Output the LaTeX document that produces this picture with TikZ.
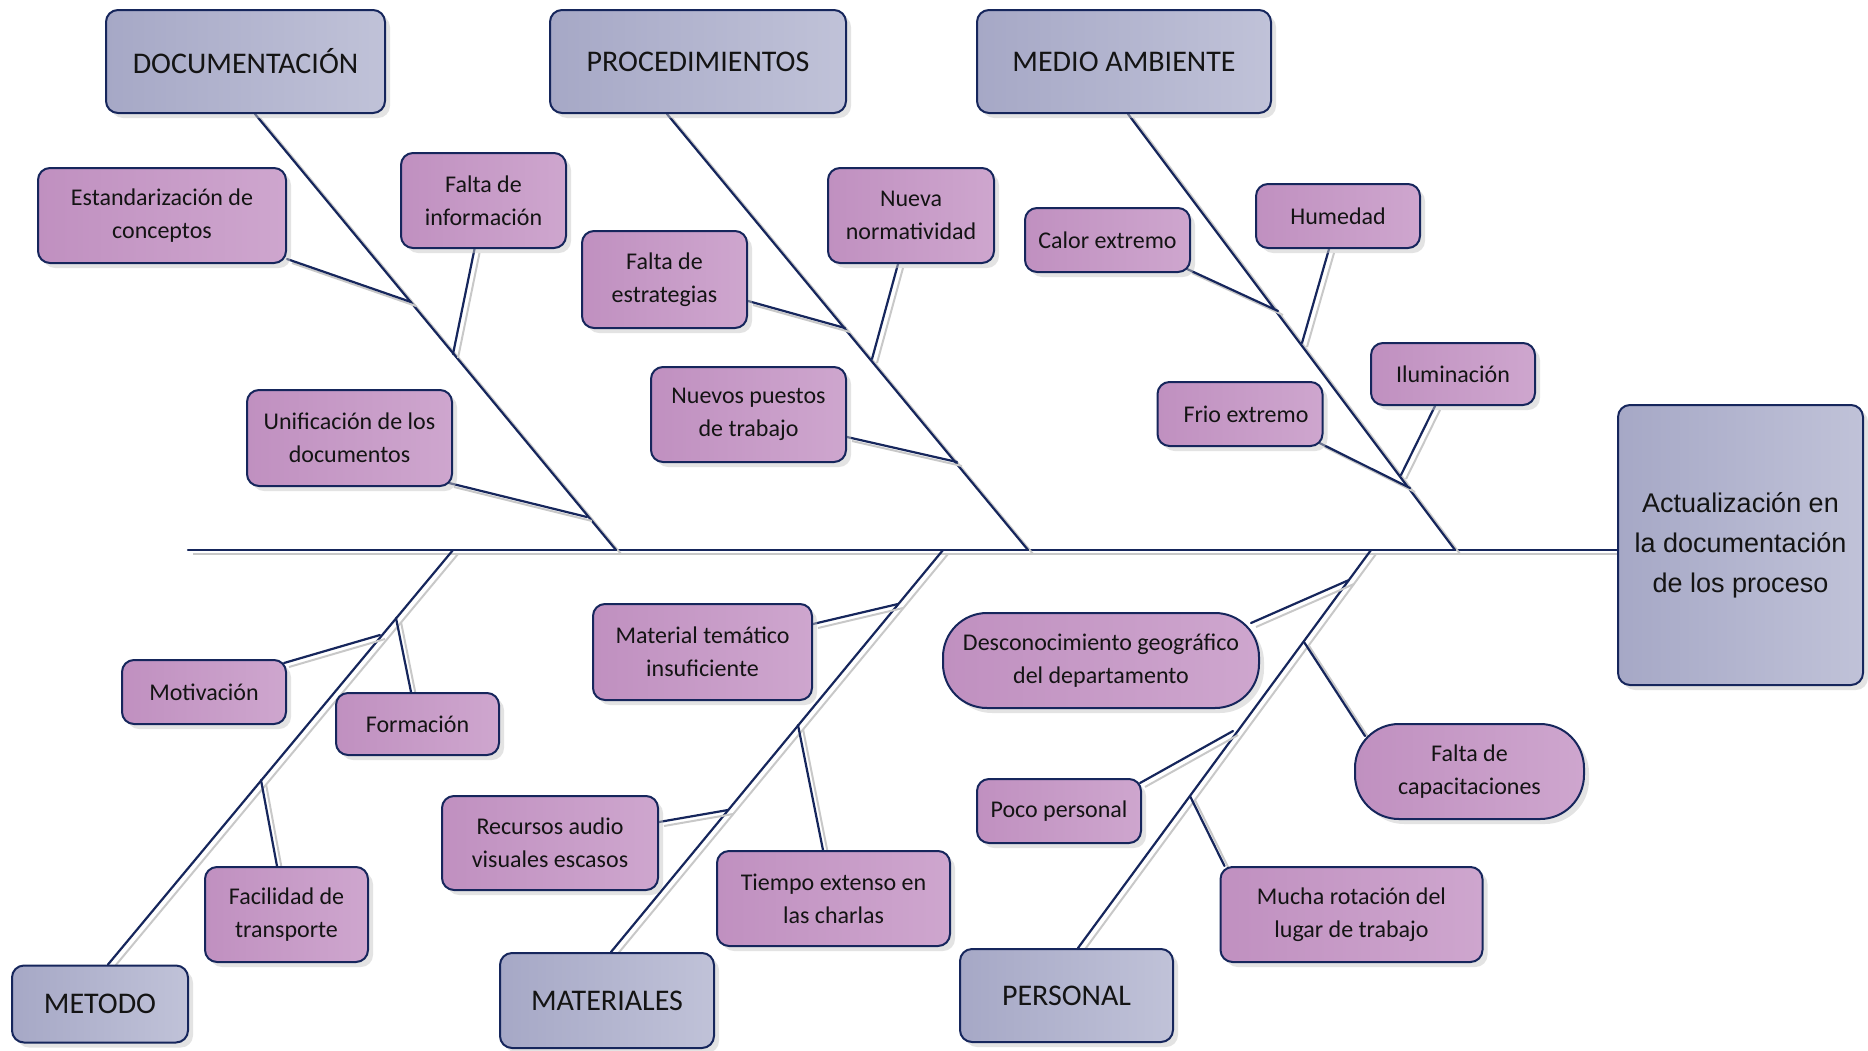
\documentclass[tikz,border=0pt]{standalone}
\usepackage{fontspec}
\setmainfont{Carlito}
\newfontfamily\headfont{Liberation Sans}
\usetikzlibrary{shadows,calc,backgrounds}
\definecolor{navy}{RGB}{22,38,92}
\definecolor{subL}{RGB}{192,144,192}
\definecolor{subR}{RGB}{206,166,206}
\definecolor{catL}{RGB}{166,168,198}
\definecolor{catR}{RGB}{192,194,216}
\definecolor{shgrey}{RGB}{200,200,200}
\definecolor{txt}{RGB}{20,20,20}
\tikzset{
  basebox/.style={draw=navy, line width=1pt, rounded corners=6pt, align=center, text=txt, inner sep=0pt,
    drop shadow={shadow xshift=2.5pt, shadow yshift=-2.5pt, fill=black!22}},
  sub/.style={basebox, left color=subL, right color=subR, font=\fontsize{12}{16.5}\selectfont},
  cat/.style={basebox, left color=catL, right color=catR, font=\fontsize{15}{18}\selectfont},
  headbox/.style={basebox, left color=catL, right color=catR, font=\headfont\fontsize{13.5}{20}\selectfont},
  wh/.style 2 args={minimum width=#1, minimum height=#2},
  conn/.style={draw=navy, line width=1.1pt, line cap=round,
    preaction={draw=shgrey, line width=1pt, transform canvas={xshift=2.5pt, yshift=-2pt}}},
}
\begin{document}
\begin{tikzpicture}[x=0.5pt, y=-0.5pt]
\useasboundingbox (0,0) rectangle (1868,1050);
% head and categories
\node[headbox, wh={122.5pt}{140pt}] (head) at (1740.5,545) {Actualización en\\la documentación\\de los proceso};
\node[cat, wh={139.5pt}{51.5pt}] (doc) at (245.5,61.5) {DOCUMENTACIÓN};
\node[cat, wh={148pt}{51.5pt}] (proc) at (698,61.5) {PROCEDIMIENTOS};
\node[cat, wh={147pt}{51.5pt}] (med) at (1124,61.5) {MEDIO AMBIENTE};
\node[cat, wh={88pt}{38.5pt}] (met) at (100,1004) {METODO};
\node[cat, wh={107pt}{47.5pt}] (mat) at (607,1000.5) {MATERIALES};
\node[cat, wh={106.5pt}{46.5pt}] (per) at (1066.5,995.5) {PERSONAL};
% causes
\node[sub, wh={124pt}{47.5pt}] (estand) at (162,215.5) {Estandarización de\\conceptos};
\node[sub, wh={82.5pt}{47.5pt}] (faltainf) at (483.5,200.5) {Falta de\\información};
\node[sub, wh={102.5pt}{48pt}] (unif) at (349.5,438) {Unificación de los\\documentos};
\node[sub, wh={82.5pt}{48.5pt}] (faltaest) at (664.5,279.5) {Falta de\\estrategias};
\node[sub, wh={83pt}{47.5pt}] (nueva) at (911,215.5) {Nueva\\normatividad};
\node[sub, wh={97.5pt}{47.5pt}] (nuevos) at (748.5,414.5) {Nuevos puestos\\de trabajo};
\node[sub, wh={82.5pt}{32pt}] (calor) at (1107.5,240) {Calor extremo};
\node[sub, wh={82pt}{32pt}] (humedad) at (1338,216) {Humedad};
\node[sub, wh={82pt}{31pt}] (ilum) at (1453,374) {Iluminación};
\node[sub, wh={82.5pt}{32pt}] (frio) at (1240,414) {\hspace*{6pt}Frio extremo};
\node[sub, wh={82pt}{32pt}] (motiv) at (204,692) {Motivación};
\node[sub, wh={81.5pt}{31pt}] (formacion) at (417.5,724) {Formación};
\node[sub, wh={81.5pt}{47.5pt}] (facil) at (286.5,914.5) {Facilidad de\\transporte};
\node[sub, wh={109.5pt}{48pt}] (mattem) at (702.5,652) {Material temático\\insuficiente};
\node[sub, wh={108pt}{47pt}] (recursos) at (550,843) {Recursos audio\\visuales escasos};
\node[sub, wh={116.5pt}{47.5pt}] (tiempo) at (833.5,898.5) {Tiempo extenso en\\las charlas};
\node[sub, wh={158pt}{47.5pt}, rounded corners=22pt] (descon) at (1101,660.5) {Desconocimiento geográfico\\del departamento};
\node[sub, wh={114.5pt}{47.5pt}, rounded corners=22pt] (faltacap) at (1469.5,771.5) {Falta de\\capacitaciones};
\node[sub, wh={82pt}{32pt}] (poco) at (1059,811) {Poco personal};
\node[sub, wh={131pt}{47.5pt}] (mucha) at (1351.5,914.5) {Mucha rotación del\\lugar de trabajo};
% junction points
\coordinate (spL) at (188,550);
\coordinate (jdoc) at (616,550);
\coordinate (jproc) at (1028,550);
\coordinate (jmed) at (1455,550);
\coordinate (jmet) at (453,550);
\coordinate (jmat) at (943,550);
\coordinate (jper) at (1371,550);
\coordinate (c-estand) at (411,302);
\coordinate (c-faltainf) at (453,354);
\coordinate (c-unif) at (587,517);
\coordinate (c-faltaest) at (845,328);
\coordinate (c-nueva) at (872,359);
\coordinate (c-nuevos) at (957,462);
\coordinate (c-calor) at (1278,311);
\coordinate (c-humedad) at (1302,343);
\coordinate (c-ilum) at (1401,475);
\coordinate (c-frio) at (1410,488);
\coordinate (c-motiv) at (380,635);
\coordinate (c-formacion) at (396,618);
\coordinate (c-facil) at (261,780);
\coordinate (c-mattem) at (898,604);
\coordinate (c-recursos) at (728,810);
\coordinate (c-tiempo) at (798,725);
\coordinate (c-descon) at (1349,580);
\coordinate (c-faltacap) at (1304,642);
\coordinate (c-poco) at (1233,731);
\coordinate (c-mucha) at (1190,796);
\begin{scope}[on background layer]
\draw[conn] (spL) -- (spL -| head.west);
\draw[conn] ($(doc.south)+(9.5,0)$) -- (jdoc);
\draw[conn] ($(proc.south)+(-31,0)$) -- (jproc);
\draw[conn] ($(med.south)+(4,0)$) -- (jmed);
\draw[conn] ($(met.north)+(8,0)$) -- (jmet);
\draw[conn] ($(mat.north)+(4,0)$) -- (jmat);
\draw[conn] ($(per.north)+(11.5,0)$) -- (jper);
\draw[conn] ($(estand.south east)+(0,-5)$) -- (c-estand);
\draw[conn] ($(faltainf.south)+(-9,0)$) -- (c-faltainf);
\draw[conn] ($(unif.south east)+(-4,-4)$) -- (c-unif);
\draw[conn] ($(faltaest.east)+(0,21.5)$) -- (c-faltaest);
\draw[conn] ($(nueva.south)+(-13,0)$) -- (c-nueva);
\draw[conn] ($(nuevos.east)+(0,22.5)$) -- (c-nuevos);
\draw[conn] ($(calor.south east)+(-4,-4)$) -- (c-calor);
\draw[conn] ($(humedad.south)+(-9,0)$) -- (c-humedad);
\draw[conn] ($(ilum.south)+(-18,0)$) -- (c-ilum);
\draw[conn] ($(frio.south east)+(-4,-4)$) -- (c-frio);
\draw[conn] ($(motiv.north east)+(-3,4)$) -- (c-motiv);
\draw[conn] ($(formacion.north)+(-6.5,0)$) -- (c-formacion);
\draw[conn] ($(facil.north)+(-9.5,0)$) -- (c-facil);
\draw[conn] ($(mattem.north east)+(0,21)$) -- (c-mattem);
\draw[conn] ($(recursos.north east)+(0,27)$) -- (c-recursos);
\draw[conn] ($(tiempo.north)+(-10.5,0)$) -- (c-tiempo);
\draw[conn] ($(descon.north east)+(-9,11)$) -- (c-descon);
\draw[conn] ($(faltacap.north west)+(11,13)$) -- (c-faltacap);
\draw[conn] ($(poco.north east)+(-2,5)$) -- (c-poco);
\draw[conn] ($(mucha.north west)+(5,0)$) -- (c-mucha);
\end{scope}
\end{tikzpicture}
\end{document}
